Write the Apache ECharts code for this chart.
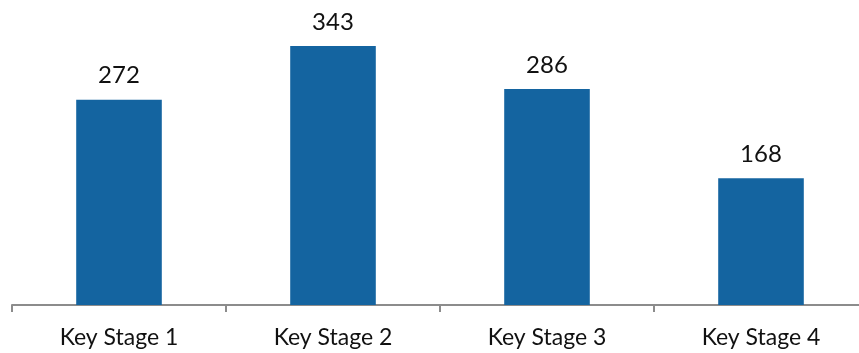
<!DOCTYPE html>
<html><head><meta charset="utf-8">
<script src="https://cdn.jsdelivr.net/npm/echarts@6/dist/echarts.min.js"></script>
<style>html,body{margin:0;padding:0;background:#fff;overflow:hidden}#c{width:868px;height:353px}</style>
</head><body><div id="c"></div>
<script>
const categories = ['Key Stage 1', 'Key Stage 2', 'Key Stage 3', 'Key Stage 4'];
const values = [272, 343, 286, 168];

const chart = echarts.init(document.getElementById('c'), null, {renderer: 'canvas'});
chart.setOption({
  animation: false,
  grid: {left: 12, top: 3, right: 0, bottom: 48, containLabel: false},
  xAxis: {
    type: 'category', data: categories,
    axisLine: {lineStyle: {color: '#8c8c8c', width: 2}},
    axisTick: {show: true, length: 7, lineStyle: {color: '#8c8c8c', width: 2}},
    axisLabel: {color: '#111', fontFamily: 'Lato', fontSize: 23, margin: 21}
  },
  yAxis: {type: 'value', min: 0, max: 400, show: false, splitLine: {show: false}},
  series: [{
    type: 'bar', data: values, barWidth: '40%',
    itemStyle: {color: '#1464a0'},
    label: {show: true, position: 'top', distance: 12, color: '#111', fontFamily: 'Lato', fontSize: 24}
  }]
});
</script></body></html>
